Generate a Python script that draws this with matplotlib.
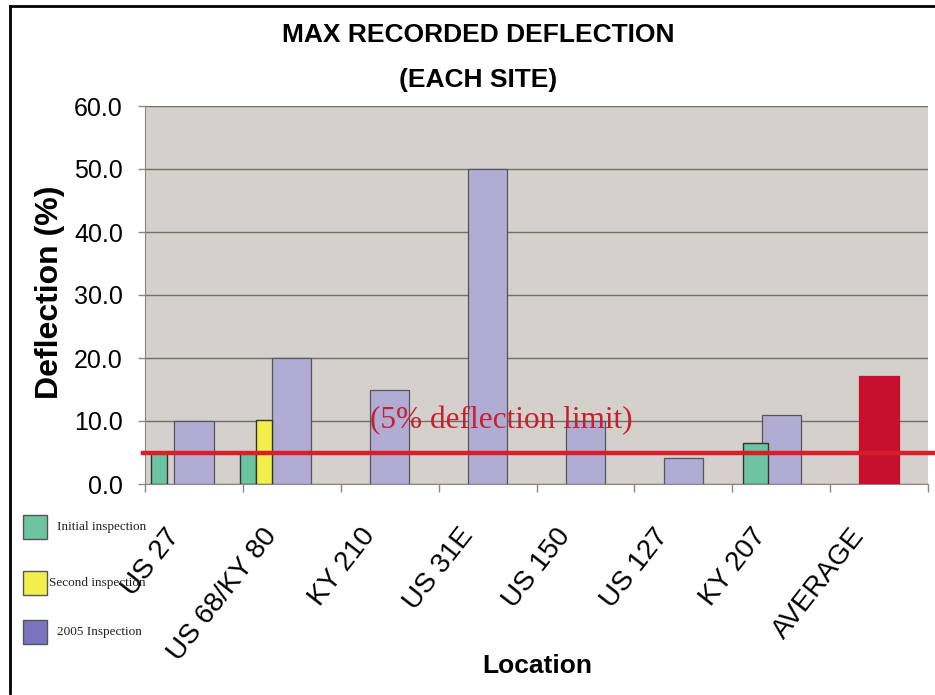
import matplotlib
matplotlib.use("Agg")
import matplotlib.pyplot as plt
from matplotlib.patches import Rectangle
from matplotlib.lines import Line2D
from matplotlib.transforms import offset_copy
import numpy as np

# ---- data ----
locations = ["US 27", "US 68/KY 80", "KY 210", "US 31E", "US 150", "US 127", "KY 207", "AVERAGE"]
initial = [5.0, 5.0, None, None, None, None, 6.5, None]
second = [None, 10.2, None, None, None, None, None, None]
insp_2005 = [10.0, 20.0, 15.0, 50.0, 10.0, 4.2, 11.0, None]
average = [None, None, None, None, None, None, None, 17.2]
limit = 5.0
y_ticks = [0, 10, 20, 30, 40, 50, 60]
legend_labels = ["Initial inspection", "Second inspection", "2005 Inspection"]

# ---- style ----
C_BG = "#D4D0CC"
C_GREEN = "#6CC4A0"
C_YELLOW = "#F2EE4A"
C_PURPLE = "#B1ACD4"
C_RED = "#C8102E"
C_LINE = "#D81E2A"
C_EDGE = "#55555A"
green_off = [-0.36, -0.45, 0, 0, 0, 0, -0.26, 0]
green_w = [0.165, 0.165, 0, 0, 0, 0, 0.255, 0]
sans = ["Liberation Sans", "DejaVu Sans"]
serif = ["Liberation Serif", "DejaVu Serif"]

fig = plt.figure(figsize=(9.35, 6.95), dpi=100)
ax = fig.add_axes([145/935, 1-484/695, 783/935, 378/695])
ax.set_facecolor(C_BG)

x = np.arange(len(locations))
for i in range(len(locations)):
    if insp_2005[i] is not None:
        ax.bar(x[i], insp_2005[i], width=0.40, color=C_PURPLE, edgecolor=C_EDGE, linewidth=0.9, zorder=3)
    if average[i] is not None:
        ax.bar(x[i], average[i], width=0.40, color=C_RED, edgecolor=C_RED, linewidth=0.9, zorder=3)
    if initial[i] is not None:
        ax.bar(x[i] + green_off[i], initial[i], width=green_w[i], color=C_GREEN, edgecolor="#333333", linewidth=1.0, zorder=4)
    if second[i] is not None:
        ax.bar(x[i] - 0.285, second[i], width=0.165, color=C_YELLOW, edgecolor="#333333", linewidth=1.0, zorder=4)

ax.set_xlim(-0.5, len(locations) - 0.5)
ax.set_ylim(0, 60)
ax.set_yticks(y_ticks)
ax.set_yticklabels([f"{v:.1f}" for v in y_ticks], fontsize=18, family=sans)
ax.yaxis.grid(True, color="#6E6E6E", linewidth=1.0, zorder=1)
ax.set_axisbelow(True)
ax.tick_params(axis="y", length=5, width=1, color="#888888", pad=11)

# x ticks at category boundaries
ax.set_xticks(np.arange(len(locations) + 1) - 0.5)
ax.set_xticklabels([])
ax.tick_params(axis="x", length=6, width=1, color="#888888")
for s in ["top", "right"]:
    ax.spines[s].set_visible(False)
ax.spines["left"].set_color("#888888")
ax.spines["bottom"].set_color("#888888")

# category labels
for i, lab in enumerate(locations):
    tr = offset_copy(ax.get_xaxis_transform(), fig=fig, x=-14, y=-52, units="dots")
    ax.text(x[i], 0, lab, transform=tr, rotation=52, rotation_mode="anchor",
            ha="right", va="baseline", fontsize=20, family=sans, color="black")

# limit line
ax.axhline(limit, xmin=-0.003, xmax=1.02, color=C_LINE, linewidth=3.2, zorder=5, clip_on=False)
ax.text(1.80, 10, "(5% deflection limit)", color="#C8202A", fontsize=22.5, family=serif,
        ha="left", va="center", zorder=6)

# titles and axis labels
fig.text(478/935, 1-35/695, "MAX RECORDED DEFLECTION", fontsize=19, fontweight="bold",
         family=sans, ha="center", va="center")
fig.text(478/935, 1-80/695, "(EACH SITE)", fontsize=19, fontweight="bold",
         family=sans, ha="center", va="center")
fig.text(50/935, 1-292/695, "Deflection (%)", fontsize=23, fontweight="bold",
         family=sans, rotation=90, ha="center", va="center")
fig.text(537/935, 1-666/695, "Location", fontsize=19, fontweight="bold",
         family=sans, ha="center", va="center")

# legend (manual)
leg_colors = [C_GREEN, C_YELLOW, "#7B74BE"]
leg_y = [527, 583, 632]
leg_tx = [57, 49, 57]
for c, yy, tx, lab in zip(leg_colors, leg_y, leg_tx, legend_labels):
    fig.patches.append(Rectangle((23/935, 1-(yy+12)/695), 24/935, 24/695, transform=fig.transFigure,
                                 facecolor=c, edgecolor="#555555", linewidth=1.0))
    fig.text(tx/935, 1-yy/695, lab, fontsize=9.5, family=serif, ha="left", va="center", color="#222222")

# outer frame
fig.add_artist(Line2D([10/935, 10/935], [0.003, 1-6/695], transform=fig.transFigure, color="black", linewidth=2))
fig.add_artist(Line2D([10/935, 1.0], [1-6/695, 1-6/695], transform=fig.transFigure, color="black", linewidth=2))

fig.savefig("out.png", dpi=100, facecolor="white")
